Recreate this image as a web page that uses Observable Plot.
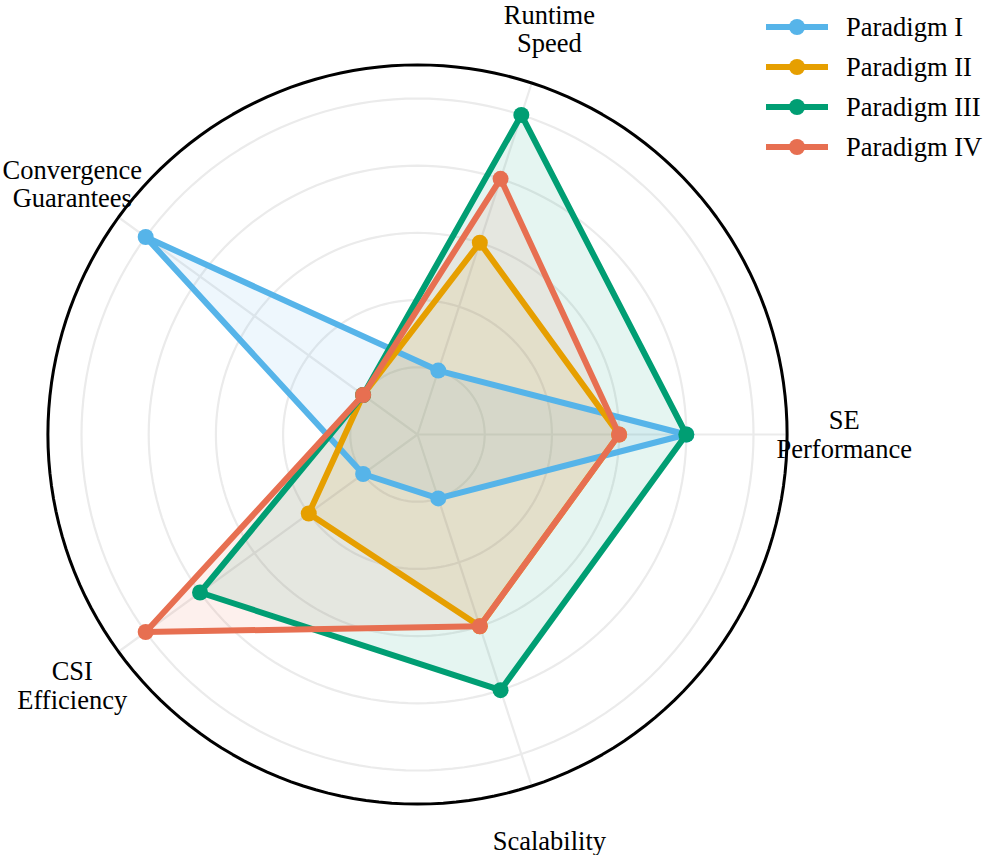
<!DOCTYPE html>
<html>
<head>
<meta charset="utf-8">
<script src="https://cdn.jsdelivr.net/npm/d3@7"></script>
<script src="https://cdn.jsdelivr.net/npm/@observablehq/plot@0.6"></script>
<style>
  html, body { margin: 0; padding: 0; background: #fff; }
  #wrap { position: relative; width: 985px; height: 855px; font-family: "Liberation Serif", "Times New Roman", serif; }
  #legend { position: absolute; left: 766px; top: 7px; }
  .row { display: flex; align-items: center; height: 40px; }
  .row span { font-size: 26.5px; margin-left: 18px; color: #000; line-height: 1; }
</style>
</head>
<body>
<div id="wrap">
  <div id="chart"></div>
  <div id="legend"></div>
</div>
<script>
// Radar axes, counter-clockwise from the right
const categories = ["SE\nPerformance", "Runtime\nSpeed", "Convergence\nGuarantees", "CSI\nEfficiency", "Scalability"];
const paradigms = ["Paradigm I", "Paradigm II", "Paradigm III", "Paradigm IV"];
const paradigmI   = [4, 1, 5, 1, 1];
const paradigmII  = [3, 3, 1, 2, 3];
const paradigmIII = [4, 5, 1, 4, 4];
const paradigmIV  = [3, 4, 1, 5, 3];
const ringTicks = [1, 2, 3, 4, 5];
const radialMax = 5.5;
const labelRadius = 6.35;
const colors = ["#56B4E9", "#E69F00", "#009E73", "#E76F51"];

const seriesValues = [paradigmI, paradigmII, paradigmIII, paradigmIV];
const W = 985, H = 855;
const cx = 417, cy = 434, unit = 67.2;

const angle = (i) => (i * 2 * Math.PI) / categories.length;
const px = (r, i) => r * Math.cos(angle(i));
const py = (r, i) => r * Math.sin(angle(i));

// Grid rings and spokes
const circlePts = (r) => d3.range(0, 361, 2).map(d => ({r, a: d * Math.PI / 180}));
const rings = ringTicks.flatMap(r => circlePts(r));
const spokes = categories.map((c, i) => ({i}));

const seriesTable = paradigms.map((name, k) =>
  seriesValues[k].map((v, i) => ({name, k, i, v}))
);

const marks = [];
marks.push(Plot.line(rings, {
  x: d => d.r * Math.cos(d.a), y: d => d.r * Math.sin(d.a), z: "r",
  stroke: "#ebebeb", strokeWidth: 2.2
}));
marks.push(Plot.link(spokes, {
  x1: 0, y1: 0, x2: d => px(radialMax, d.i), y2: d => py(radialMax, d.i),
  stroke: "#ebebeb", strokeWidth: 2.2
}));

seriesTable.forEach((rows, k) => {
  marks.push(Plot.line(rows, {
    x: d => px(d.v, d.i), y: d => py(d.v, d.i),
    curve: "linear-closed", fill: colors[k], fillOpacity: 0.1, stroke: "none"
  }));
});
seriesTable.forEach((rows, k) => {
  marks.push(Plot.line(rows, {
    x: d => px(d.v, d.i), y: d => py(d.v, d.i),
    curve: "linear-closed", stroke: colors[k], strokeWidth: 6, strokeLinejoin: "miter"
  }));
  marks.push(Plot.dot(rows, {
    x: d => px(d.v, d.i), y: d => py(d.v, d.i),
    r: 8, fill: colors[k], stroke: "none"
  }));
});

marks.push(Plot.text(categories.map((c, i) => ({c, i})), {
  x: d => px(labelRadius, d.i), y: d => py(labelRadius, d.i), text: "c",
  textAnchor: "middle", lineAnchor: "middle", lineHeight: 1.08,
  fontSize: 26.5, fill: "#000"
}));

// Outer frame of the polar axis
marks.push(Plot.line(circlePts(radialMax), {
  x: d => d.r * Math.cos(d.a), y: d => d.r * Math.sin(d.a),
  stroke: "#000", strokeWidth: 3
}));

const chart = Plot.plot({
  width: W, height: H,
  marginTop: 0, marginRight: 0, marginBottom: 0, marginLeft: 0,
  x: {domain: [-cx / unit, (W - cx) / unit], range: [0, W], axis: null},
  y: {domain: [-(H - cy) / unit, cy / unit], range: [H, 0], axis: null},
  style: {fontFamily: "'Liberation Serif', 'Times New Roman', serif", background: "#fff", overflow: "visible"},
  marks
});
document.getElementById("chart").appendChild(chart);

// Legend
const legend = document.getElementById("legend");
paradigms.forEach((name, k) => {
  const row = document.createElement("div");
  row.className = "row";
  row.innerHTML = `<svg width="62" height="18"><line x1="0" x2="62" y1="9" y2="9" stroke="${colors[k]}" stroke-width="6"/><circle cx="31" cy="9" r="8" fill="${colors[k]}"/></svg><span>${name}</span>`;
  legend.appendChild(row);
});
</script>
</body>
</html>
